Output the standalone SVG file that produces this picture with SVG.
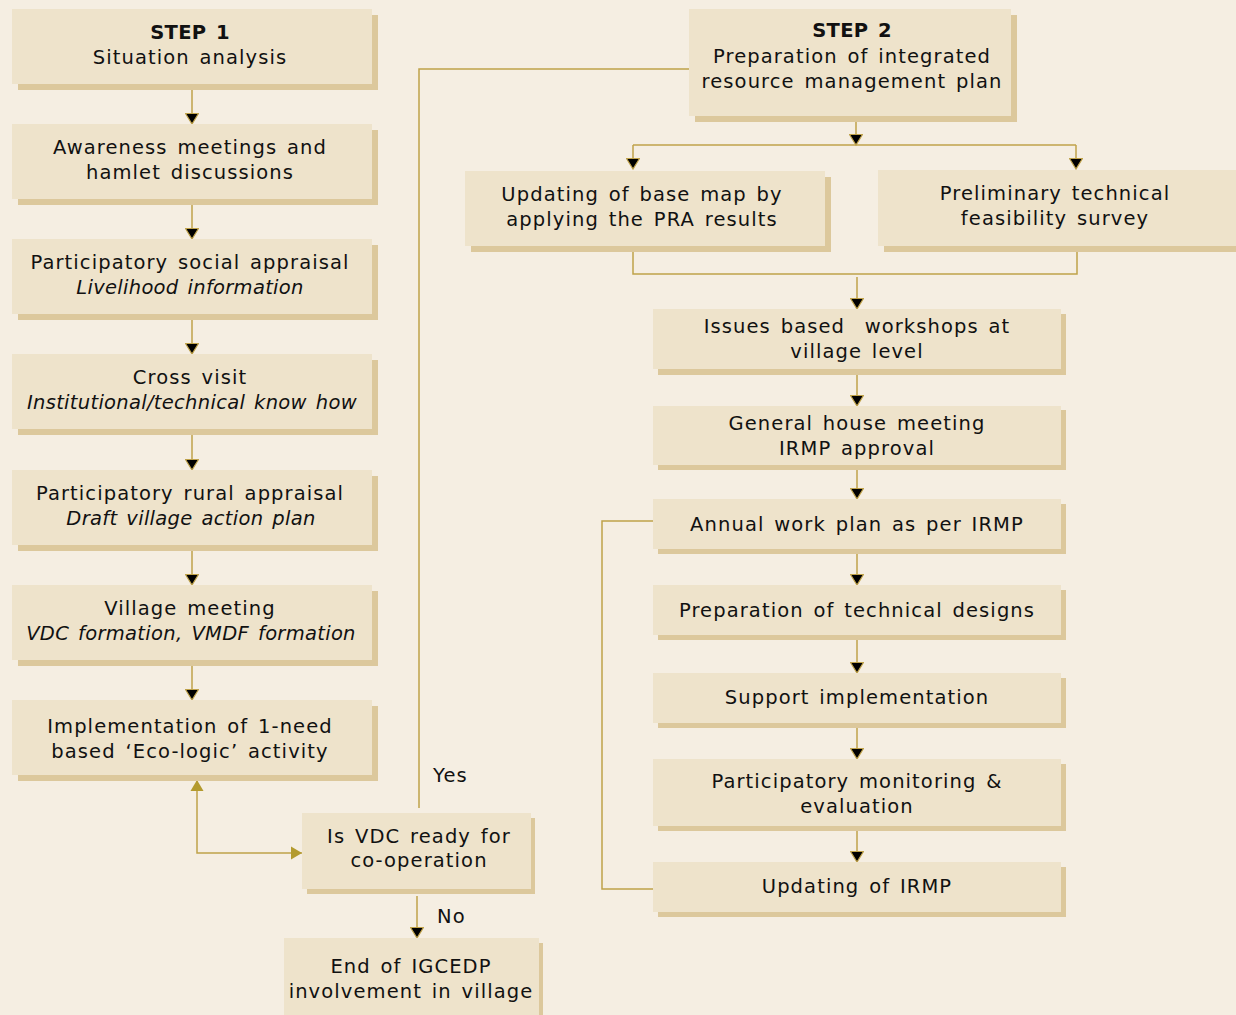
<svg xmlns="http://www.w3.org/2000/svg" width="1236" height="1015" viewBox="0 0 1236 1015">
<style>
.bg{fill:#F5EEE2}
.sh{fill:#DCC89C}
.bx{fill:#EEE3CB}
.t{font-family:"DejaVu Sans",Verdana,sans-serif;font-size:19.5px;letter-spacing:1.1px;word-spacing:2.5px;fill:#111;text-anchor:middle}
.l{text-anchor:start}
.b{font-weight:bold;letter-spacing:0.3px}
.i{font-style:italic;letter-spacing:0.3px}
.ln{stroke:#BFA24A;stroke-width:1.5;fill:none}
</style>
<defs>
<marker id="ah" markerUnits="userSpaceOnUse" markerWidth="14" markerHeight="14" viewBox="0 0 14 14" refX="12" refY="7" orient="auto"><path d="M1.5,0.5 L12,7 L1.5,13.5 Z" fill="#000" stroke="#BFA24A" stroke-width="1.2"/></marker>
<marker id="ao" markerUnits="userSpaceOnUse" markerWidth="14" markerHeight="14" viewBox="0 0 14 14" refX="12" refY="7" orient="auto-start-reverse"><path d="M1,0.5 L12,7 L1,13.5 Z" fill="#B39A2E"/></marker>
</defs>
<rect class="bg" x="0" y="0" width="1236" height="1015"/>

<g id="connectors">
<path class="ln" marker-end="url(#ah)" d="M192,90 V124"/>
<path class="ln" marker-end="url(#ah)" d="M192,205 V239"/>
<path class="ln" marker-end="url(#ah)" d="M192,320 V354"/>
<path class="ln" marker-end="url(#ah)" d="M192,435 V470"/>
<path class="ln" marker-end="url(#ah)" d="M192,551 V585"/>
<path class="ln" marker-end="url(#ah)" d="M192,666 V700"/>
<path class="ln" marker-start="url(#ao)" marker-end="url(#ao)" d="M197,780 V853 H302"/>
<path class="ln" d="M419,808 V69 H689"/>
<path class="ln" marker-end="url(#ah)" d="M417,896 V938"/>
<path class="ln" marker-end="url(#ah)" d="M856,122 V145"/>
<path class="ln" d="M633,145 H1076"/>
<path class="ln" marker-end="url(#ah)" d="M633,145 V169"/>
<path class="ln" marker-end="url(#ah)" d="M1076,145 V169"/>
<path class="ln" d="M633,252 V274 H1077 V252"/>
<path class="ln" marker-end="url(#ah)" d="M857,277 V309"/>
<path class="ln" marker-end="url(#ah)" d="M857,375 V406"/>
<path class="ln" marker-end="url(#ah)" d="M857,470 V499"/>
<path class="ln" marker-end="url(#ah)" d="M857,554 V585"/>
<path class="ln" marker-end="url(#ah)" d="M857,640 V673"/>
<path class="ln" marker-end="url(#ah)" d="M857,728 V759"/>
<path class="ln" marker-end="url(#ah)" d="M857,831 V862"/>
<path class="ln" d="M653,521 H602 V889 H653"/>
</g>

<g id="step1">
<rect class="sh" x="18" y="15" width="360" height="75"/>
<rect class="bx" x="12" y="9" width="360" height="75"/>
<text class="t b" x="190" y="39">STEP 1</text>
<text class="t" x="190" y="64">Situation analysis</text>
</g>
<g id="awareness">
<rect class="sh" x="18" y="130" width="360" height="75"/>
<rect class="bx" x="12" y="124" width="360" height="75"/>
<text class="t" x="190" y="154">Awareness meetings and</text>
<text class="t" x="190" y="179">hamlet discussions</text>
</g>
<g id="psa">
<rect class="sh" x="18" y="245" width="360" height="75"/>
<rect class="bx" x="12" y="239" width="360" height="75"/>
<text class="t" x="190" y="269">Participatory social appraisal</text>
<text class="t i" x="190" y="294">Livelihood information</text>
</g>
<g id="cross">
<rect class="sh" x="18" y="360" width="360" height="75"/>
<rect class="bx" x="12" y="354" width="360" height="75"/>
<text class="t" x="190" y="384">Cross visit</text>
<text class="t i" x="192" y="409">Institutional/technical know how</text>
</g>
<g id="pra">
<rect class="sh" x="18" y="476" width="360" height="75"/>
<rect class="bx" x="12" y="470" width="360" height="75"/>
<text class="t" x="190" y="500">Participatory rural appraisal</text>
<text class="t i" x="191" y="525">Draft village action plan</text>
</g>
<g id="village">
<rect class="sh" x="18" y="591" width="360" height="75"/>
<rect class="bx" x="12" y="585" width="360" height="75"/>
<text class="t" x="190" y="615">Village meeting</text>
<text class="t i" x="191" y="640">VDC formation, VMDF formation</text>
</g>
<g id="implementation">
<rect class="sh" x="18" y="706" width="360" height="75"/>
<rect class="bx" x="12" y="700" width="360" height="75"/>
<text class="t" x="190" y="733">Implementation of 1-need</text>
<text class="t" x="190" y="758">based ‘Eco-logic’ activity</text>
</g>
<g id="decision">
<rect class="sh" x="307" y="818" width="228" height="76"/>
<rect class="bx" x="302" y="813" width="229" height="76"/>
<text class="t" x="419" y="843">Is VDC ready for</text>
<text class="t" x="419" y="867">co-operation</text>
</g>
<text class="t l" x="433" y="782">Yes</text>
<text class="t l" x="437" y="923">No</text>
<g id="end">
<rect class="sh" x="288" y="943" width="255" height="80"/>
<rect class="bx" x="284" y="938" width="255" height="80"/>
<text class="t" x="411" y="973">End of IGCEDP</text>
<text class="t" x="411" y="998">involvement in village</text>
</g>

<g id="step2">
<rect class="sh" x="695" y="15" width="322" height="107"/>
<rect class="bx" x="689" y="9" width="322" height="107"/>
<text class="t b" x="852" y="37">STEP 2</text>
<text class="t" x="852" y="63">Preparation of integrated</text>
<text class="t" x="852" y="88">resource management plan</text>
</g>
<g id="basemap">
<rect class="sh" x="471" y="177" width="360" height="75"/>
<rect class="bx" x="465" y="171" width="360" height="75"/>
<text class="t" x="642" y="201">Updating of base map by</text>
<text class="t" x="642" y="226">applying the PRA results</text>
</g>
<g id="feasibility">
<rect class="sh" x="884" y="176" width="360" height="76"/>
<rect class="bx" x="878" y="170" width="360" height="76"/>
<text class="t" x="1055" y="200">Preliminary technical</text>
<text class="t" x="1055" y="225">feasibility survey</text>
</g>
<g id="issues">
<rect class="sh" x="658" y="314" width="408" height="61"/>
<rect class="bx" x="653" y="309" width="408" height="60"/>
<text class="t" x="857" y="333">Issues based &#160;workshops at</text>
<text class="t" x="857" y="358">village level</text>
</g>
<g id="general">
<rect class="sh" x="658" y="410" width="408" height="60"/>
<rect class="bx" x="653" y="406" width="408" height="59"/>
<text class="t" x="857" y="430">General house meeting</text>
<text class="t" x="857" y="455">IRMP approval</text>
</g>
<g id="annual">
<rect class="sh" x="658" y="504" width="408" height="50"/>
<rect class="bx" x="653" y="499" width="408" height="50"/>
<text class="t" x="857" y="531">Annual work plan as per IRMP</text>
</g>
<g id="designs">
<rect class="sh" x="658" y="590" width="408" height="50"/>
<rect class="bx" x="653" y="585" width="408" height="50"/>
<text class="t" x="857" y="617">Preparation of technical designs</text>
</g>
<g id="support">
<rect class="sh" x="658" y="678" width="408" height="50"/>
<rect class="bx" x="653" y="673" width="408" height="50"/>
<text class="t" x="857" y="704">Support implementation</text>
</g>
<g id="monitoring">
<rect class="sh" x="658" y="764" width="408" height="67"/>
<rect class="bx" x="653" y="759" width="408" height="67"/>
<text class="t" x="857" y="788">Participatory monitoring &amp;</text>
<text class="t" x="857" y="813">evaluation</text>
</g>
<g id="updating">
<rect class="sh" x="658" y="867" width="408" height="50"/>
<rect class="bx" x="653" y="862" width="408" height="50"/>
<text class="t" x="857" y="893">Updating of IRMP</text>
</g>
</svg>
